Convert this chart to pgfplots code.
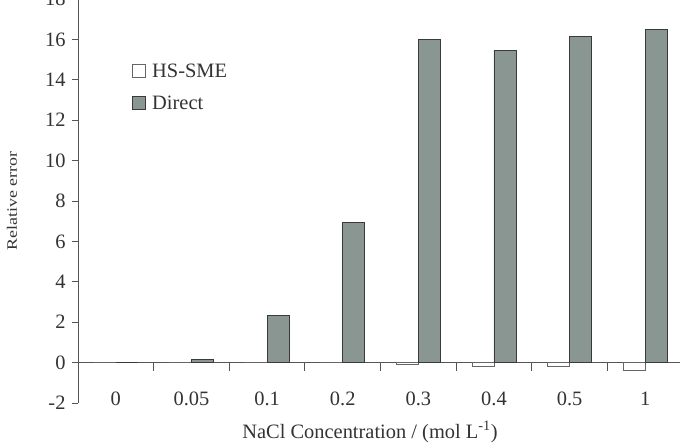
\documentclass[border=0pt]{standalone}
\usepackage{pgfplots}
\pgfplotsset{compat=1.18}
\usepackage{fontspec}
\setmainfont{Liberation Serif}
\definecolor{txt}{HTML}{333333}
\definecolor{axisgray}{HTML}{555555}
\definecolor{directfill}{HTML}{8A9692}
\definecolor{directedge}{HTML}{3A3A3A}
\definecolor{hsedge}{HTML}{666666}
\newcommand{\bigfont}{\fontsize{20.5}{24}\selectfont}
\begin{document}
\begin{tikzpicture}
\begin{axis}[
  scale only axis,
  width=602bp, height=404bp,
  xmin=-0.5, xmax=7.46,
  ymin=-2, ymax=18,
  axis y line*=left,
  axis x line*=middle,
  axis line style={-, draw=axisgray, line width=0.9pt},
  hide obscured x ticks=false,
  hide obscured y ticks=false,
  ytick={-2,0,...,18},
  xtick={0,...,7},
  xticklabels={0,0.05,0.1,0.2,0.3,0.4,0.5,1},
  xtick style={draw=none},
  ytick style={draw=axisgray, line width=0.9pt},
  tick align=outside,
  major tick length=6bp,
  /pgf/number format/assume math mode=true,
  every tick label/.append style={font=\bigfont, text=txt},
  xticklabel style={anchor=center, yshift=-30bp},
  yticklabel style={xshift=-3bp},
  xlabel={NaCl Concentration / (mol L\textsuperscript{-1})},
  xlabel style={font=\bigfont, text=txt, at={(axis description cs:0.485,-0.0718)}, anchor=center},
  ylabel={\scalebox{1}[0.8]{Relative error}},
  ylabel style={font=\fontsize{18}{20}\selectfont, text=txt, at={(axis description cs:-0.1096,0.5)}, anchor=center},
  legend style={draw=none, fill=none, font=\bigfont, text=txt,
    at={(axis description cs:0.089,0.845)}, anchor=north west,
    row sep=13bp, inner sep=0pt},
  legend cell align=left,
  legend image code/.code={%
    \draw[#1] (0bp,-6bp) rectangle (13bp,7bp);
    \path[draw=none, fill=none] (0bp,0bp) -- (18bp,0bp);},
  clip=false,
]
% HS-SME (white bars, left of each category centre)
\addplot[ybar, bar width=22bp, bar shift=-11bp, fill=white, draw=hsedge, line width=0.9pt]
  coordinates {(0,0) (1,0) (2,0) (3,0) (4,-0.07) (5,-0.17) (6,-0.17) (7,-0.4)};
\addlegendentry{HS-SME}
% Direct (grey bars, right of each category centre)
\addplot[ybar, bar width=22bp, bar shift=11bp, fill=directfill, draw=directedge, line width=0.9pt]
  coordinates {(0,0) (1,0.15) (2,2.35) (3,6.95) (4,16.0) (5,15.45) (6,16.15) (7,16.5)};
\addlegendentry{Direct}
% category separators below the zero line
\pgfplotsinvokeforeach{0.5,1.5,...,6.5}{
  \draw[axisgray, line width=0.9pt] (axis cs:#1,0) -- ++(0pt,-8bp);
}
\end{axis}
\pgfresetboundingbox
\useasboundingbox (-78bp,-41bp) rectangle (602bp,403bp);
\end{tikzpicture}
\end{document}
